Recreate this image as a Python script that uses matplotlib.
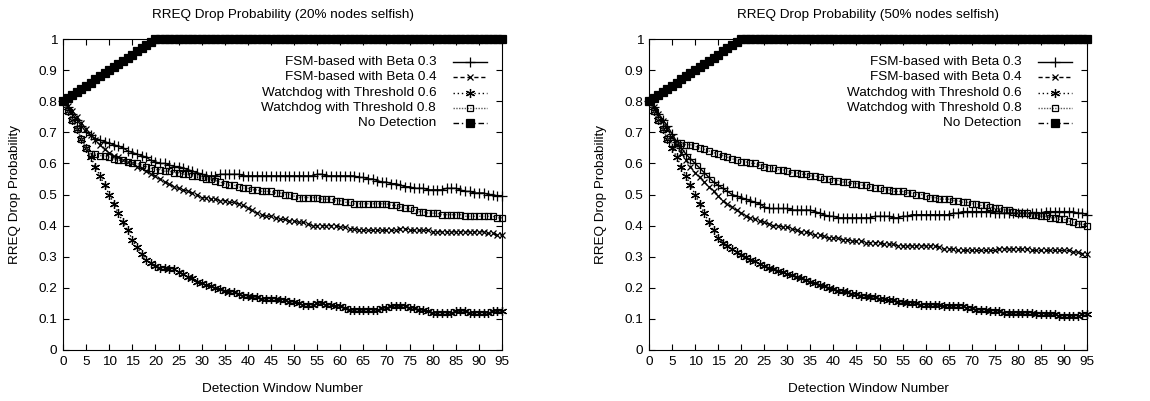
import matplotlib
matplotlib.use("Agg")
import matplotlib.pyplot as plt

plt.rcParams['font.family'] = ['Liberation Sans', 'DejaVu Sans']
plt.rcParams['font.size'] = 9.7

# Detection window numbers 0..95
windows = list(range(96))

# ---- 20% nodes selfish ----
left_fsm_03 = [
    0.80, 0.78, 0.76, 0.74, 0.72, 0.70, 0.69, 0.68, 0.675, 0.67,
    0.665, 0.66, 0.655, 0.65, 0.64, 0.635, 0.63, 0.625, 0.62, 0.61,
    0.605, 0.60, 0.60, 0.595, 0.59, 0.59, 0.585, 0.58, 0.575, 0.57,
    0.565, 0.56, 0.56, 0.56, 0.565, 0.565, 0.565, 0.565, 0.565, 0.56,
    0.56, 0.56, 0.56, 0.56, 0.56, 0.56, 0.56, 0.56, 0.56, 0.56,
    0.56, 0.56, 0.56, 0.56, 0.56, 0.565, 0.565, 0.56, 0.56, 0.56,
    0.56, 0.56, 0.56, 0.56, 0.555, 0.555, 0.55, 0.55, 0.545, 0.54,
    0.54, 0.535, 0.535, 0.53, 0.525, 0.525, 0.52, 0.52, 0.52, 0.515,
    0.515, 0.515, 0.515, 0.52, 0.52, 0.52, 0.515, 0.51, 0.51, 0.505,
    0.505, 0.505, 0.50, 0.50, 0.495, 0.495]
left_fsm_04 = [
    0.80, 0.785, 0.77, 0.75, 0.73, 0.71, 0.69, 0.675, 0.66, 0.645,
    0.635, 0.625, 0.62, 0.61, 0.605, 0.60, 0.59, 0.585, 0.575, 0.565,
    0.56, 0.55, 0.54, 0.535, 0.525, 0.52, 0.515, 0.51, 0.505, 0.50,
    0.49, 0.49, 0.485, 0.485, 0.48, 0.48, 0.475, 0.475, 0.47, 0.465,
    0.455, 0.45, 0.44, 0.435, 0.43, 0.43, 0.425, 0.42, 0.42, 0.415,
    0.415, 0.41, 0.41, 0.405, 0.40, 0.40, 0.40, 0.40, 0.40, 0.40,
    0.395, 0.395, 0.39, 0.39, 0.385, 0.385, 0.385, 0.385, 0.385, 0.385,
    0.385, 0.385, 0.385, 0.39, 0.39, 0.385, 0.385, 0.385, 0.385, 0.385,
    0.38, 0.38, 0.38, 0.38, 0.38, 0.38, 0.38, 0.38, 0.38, 0.38,
    0.38, 0.38, 0.375, 0.375, 0.37, 0.37]
left_wd_06 = [
    0.80, 0.77, 0.74, 0.71, 0.68, 0.65, 0.62, 0.59, 0.56, 0.53,
    0.50, 0.47, 0.44, 0.41, 0.385, 0.355, 0.33, 0.31, 0.29, 0.28,
    0.27, 0.265, 0.265, 0.26, 0.26, 0.25, 0.245, 0.235, 0.23, 0.22,
    0.215, 0.21, 0.205, 0.20, 0.195, 0.19, 0.185, 0.185, 0.18, 0.175,
    0.175, 0.17, 0.17, 0.165, 0.165, 0.165, 0.165, 0.16, 0.16, 0.155,
    0.155, 0.15, 0.145, 0.145, 0.145, 0.15, 0.15, 0.145, 0.145, 0.14,
    0.14, 0.135, 0.13, 0.13, 0.13, 0.13, 0.13, 0.13, 0.13, 0.135,
    0.135, 0.14, 0.14, 0.14, 0.14, 0.135, 0.135, 0.13, 0.13, 0.125,
    0.12, 0.12, 0.12, 0.12, 0.12, 0.125, 0.125, 0.125, 0.12, 0.12,
    0.12, 0.12, 0.12, 0.125, 0.125, 0.125]
left_wd_08 = [
    0.80, 0.77, 0.74, 0.71, 0.68, 0.65, 0.63, 0.63, 0.625, 0.625,
    0.62, 0.615, 0.61, 0.61, 0.605, 0.60, 0.60, 0.595, 0.59, 0.585,
    0.58, 0.58, 0.575, 0.575, 0.57, 0.57, 0.565, 0.565, 0.56, 0.56,
    0.555, 0.55, 0.55, 0.545, 0.54, 0.535, 0.53, 0.53, 0.525, 0.52,
    0.52, 0.515, 0.515, 0.51, 0.51, 0.51, 0.505, 0.505, 0.50, 0.50,
    0.495, 0.49, 0.49, 0.49, 0.49, 0.49, 0.485, 0.485, 0.485, 0.48,
    0.48, 0.475, 0.475, 0.47, 0.47, 0.47, 0.47, 0.47, 0.47, 0.47,
    0.47, 0.465, 0.465, 0.46, 0.455, 0.455, 0.45, 0.445, 0.445, 0.44,
    0.44, 0.44, 0.435, 0.435, 0.435, 0.435, 0.435, 0.43, 0.43, 0.43,
    0.43, 0.43, 0.43, 0.43, 0.425, 0.425]

# no detection is the same in both panels
no_detection = [
    0.80, 0.81, 0.82, 0.83, 0.84, 0.85, 0.86, 0.87, 0.88, 0.89,
    0.90, 0.91, 0.92, 0.93, 0.94, 0.95, 0.96, 0.97, 0.98, 0.99,
    1.00] + [1.00] * 75

# ---- 50% nodes selfish ----
right_fsm_03 = [
    0.80, 0.78, 0.76, 0.74, 0.72, 0.695, 0.67, 0.65, 0.63, 0.615,
    0.60, 0.585, 0.57, 0.555, 0.54, 0.53, 0.52, 0.51, 0.50, 0.495,
    0.49, 0.485, 0.48, 0.475, 0.47, 0.46, 0.455, 0.455, 0.455, 0.455,
    0.455, 0.45, 0.45, 0.45, 0.45, 0.45, 0.445, 0.44, 0.435, 0.43,
    0.43, 0.425, 0.425, 0.425, 0.425, 0.425, 0.425, 0.425, 0.425, 0.43,
    0.43, 0.43, 0.43, 0.425, 0.425, 0.43, 0.43, 0.435, 0.435, 0.435,
    0.435, 0.435, 0.435, 0.435, 0.435, 0.435, 0.44, 0.44, 0.445, 0.445,
    0.445, 0.445, 0.445, 0.445, 0.445, 0.44, 0.44, 0.44, 0.44, 0.44,
    0.44, 0.44, 0.44, 0.44, 0.44, 0.44, 0.445, 0.445, 0.445, 0.445,
    0.445, 0.445, 0.445, 0.44, 0.44, 0.435]
right_fsm_04 = [
    0.80, 0.78, 0.76, 0.735, 0.71, 0.685, 0.66, 0.635, 0.61, 0.59,
    0.57, 0.555, 0.54, 0.525, 0.51, 0.495, 0.48, 0.47, 0.46, 0.45,
    0.44, 0.43, 0.425, 0.42, 0.415, 0.41, 0.405, 0.40, 0.40, 0.395,
    0.395, 0.39, 0.385, 0.38, 0.38, 0.375, 0.37, 0.37, 0.365, 0.36,
    0.36, 0.36, 0.355, 0.355, 0.35, 0.35, 0.35, 0.345, 0.345, 0.345,
    0.345, 0.34, 0.34, 0.34, 0.335, 0.335, 0.335, 0.335, 0.335, 0.335,
    0.335, 0.335, 0.335, 0.33, 0.325, 0.325, 0.325, 0.32, 0.32, 0.32,
    0.32, 0.32, 0.32, 0.32, 0.32, 0.32, 0.325, 0.325, 0.325, 0.325,
    0.325, 0.325, 0.325, 0.32, 0.32, 0.32, 0.32, 0.32, 0.32, 0.32,
    0.32, 0.32, 0.315, 0.315, 0.31, 0.31]
right_wd_06 = [
    0.80, 0.77, 0.74, 0.71, 0.68, 0.65, 0.62, 0.59, 0.56, 0.53,
    0.50, 0.47, 0.44, 0.41, 0.385, 0.36, 0.345, 0.335, 0.325, 0.315,
    0.305, 0.30, 0.29, 0.285, 0.275, 0.27, 0.265, 0.26, 0.255, 0.25,
    0.245, 0.24, 0.235, 0.23, 0.225, 0.22, 0.215, 0.21, 0.205, 0.20,
    0.195, 0.19, 0.19, 0.185, 0.18, 0.18, 0.175, 0.175, 0.17, 0.17,
    0.165, 0.165, 0.16, 0.16, 0.155, 0.155, 0.15, 0.15, 0.15, 0.145,
    0.145, 0.145, 0.145, 0.145, 0.14, 0.14, 0.14, 0.14, 0.14, 0.135,
    0.135, 0.13, 0.13, 0.13, 0.125, 0.125, 0.125, 0.12, 0.12, 0.12,
    0.12, 0.12, 0.12, 0.12, 0.115, 0.115, 0.115, 0.115, 0.115, 0.11,
    0.11, 0.11, 0.11, 0.11, 0.115, 0.115]
right_wd_08 = [
    0.80, 0.77, 0.74, 0.71, 0.68, 0.665, 0.665, 0.665, 0.66, 0.66,
    0.655, 0.65, 0.645, 0.64, 0.635, 0.63, 0.625, 0.62, 0.615, 0.61,
    0.605, 0.605, 0.60, 0.60, 0.595, 0.59, 0.585, 0.585, 0.58, 0.58,
    0.575, 0.57, 0.57, 0.565, 0.565, 0.56, 0.56, 0.555, 0.55, 0.55,
    0.545, 0.545, 0.54, 0.54, 0.535, 0.535, 0.53, 0.53, 0.525, 0.52,
    0.52, 0.515, 0.515, 0.51, 0.51, 0.51, 0.505, 0.505, 0.50, 0.50,
    0.495, 0.49, 0.49, 0.485, 0.485, 0.485, 0.48, 0.48, 0.475, 0.475,
    0.47, 0.47, 0.465, 0.465, 0.46, 0.455, 0.455, 0.45, 0.45, 0.445,
    0.44, 0.44, 0.44, 0.435, 0.435, 0.43, 0.43, 0.425, 0.425, 0.42,
    0.42, 0.415, 0.41, 0.405, 0.405, 0.40]

labels = ["FSM-based with Beta 0.3", "FSM-based with Beta 0.4",
          "Watchdog with Threshold 0.6", "Watchdog with Threshold 0.8",
          "No Detection"]
titles = ["RREQ Drop Probability (20% nodes selfish)",
          "RREQ Drop Probability (50% nodes selfish)"]

asterisk = (6, 2, 0)
# gnuplot-ish styles: (linestyle, color, marker, markersize, fill)
styles = [
    ("-", "black", "+", 6.5, "none"),
    ((0, (3, 2)), "black", "x", 5, "none"),
    ((0, (1, 2)), "black", asterisk, 6.5, "none"),
    ((0, (1, 1)), "0.35", "s", 5, "none"),
    ((0, (4, 2, 1, 2)), "black", "s", 6, "black"),
]

fig = plt.figure(figsize=(11.5, 4.01), dpi=100)
W, H = 1150, 401
ax_left = fig.add_axes([63 / W, 51 / H, 439 / W, 311 / H])
ax_right = fig.add_axes([649 / W, 51 / H, 438 / W, 311 / H])

panels = [
    (ax_left, [left_fsm_03, left_fsm_04, left_wd_06, left_wd_08, no_detection]),
    (ax_right, [right_fsm_03, right_fsm_04, right_wd_06, right_wd_08, no_detection]),
]

legend_y = [0.926, 0.878, 0.827, 0.778, 0.730]

for k, (ax, series) in enumerate(panels):
    for vals, (ls, col, mk, ms, fc) in zip(series, styles):
        ax.plot(windows, vals, linestyle=ls, color=col, linewidth=1.0,
                marker=mk, markersize=ms, markerfacecolor=fc,
                markeredgecolor="black" if fc == "none" else fc,
                markeredgewidth=0.9, clip_on=False, zorder=3)

    # legend drawn gnuplot style: right aligned text, sample after it
    for lab, yy, (ls, col, mk, ms, fc) in zip(labels, legend_y, styles):
        ax.text(0.850, yy, lab, transform=ax.transAxes, ha="right",
                va="center")
        ax.plot([0.888, 0.966], [yy, yy], transform=ax.transAxes,
                linestyle=ls, color=col, linewidth=1.0, clip_on=False)
        ax.plot([0.927], [yy], transform=ax.transAxes, linestyle="none",
                marker=mk, markersize=ms, markerfacecolor=fc,
                markeredgecolor="black" if fc == "none" else fc,
                markeredgewidth=0.9, clip_on=False)

    ax.set_xlim(0, 95)
    ax.set_ylim(0, 1)
    ax.set_xticks(range(0, 96, 5))
    ax.set_yticks([i / 10 for i in range(11)])
    ax.set_yticklabels(["0", "0.1", "0.2", "0.3", "0.4", "0.5", "0.6",
                        "0.7", "0.8", "0.9", "1"])
    ax.tick_params(direction="in", top=True, right=True, length=4,
                   width=0.8, labelsize=9.7, pad=4)
    for sp in ax.spines.values():
        sp.set_linewidth(0.8)

    ax.text(0.5, 1.077, titles[k], transform=ax.transAxes, ha="center",
            va="center")
    ax.text(-0.109, 0.5, "RREQ Drop Probability", transform=ax.transAxes,
            rotation=90, ha="center", va="center")
    ax.text(0.5, -0.125, "Detection Window Number", transform=ax.transAxes,
            ha="center", va="center")

fig.savefig("out.png", dpi=100)
